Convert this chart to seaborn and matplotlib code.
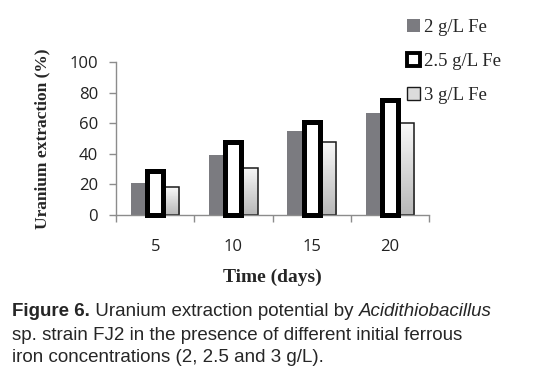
import numpy as np
import pandas as pd
import matplotlib
matplotlib.use("Agg")
import matplotlib.pyplot as plt
import seaborn as sns
from matplotlib.patches import Patch

# ── Data ──────────────────────────────────────────────────────────────
days = ["5", "10", "15", "20"]
series = ["2 g/L Fe", "2.5 g/L Fe", "3 g/L Fe"]
fe_2 = [21, 39, 55, 67]
fe_25 = [29, 48, 61, 75]
fe_3 = [18, 31, 48, 60]
y_ticks = [0, 20, 40, 60, 80, 100]

df = pd.DataFrame({
    "day": days * 3,
    "series": np.repeat(series, len(days)),
    "value": fe_2 + fe_25 + fe_3,
})

# ── Figure ────────────────────────────────────────────────────────────
sns.set_style("white")
tick_font = ["Open Sans", "DejaVu Sans"]
serif_font = ["Liberation Serif", "DejaVu Serif"]
cap_font = ["Liberation Sans", "DejaVu Sans"]
cap_size = 13.5

fig = plt.figure(figsize=(5.45, 3.79), dpi=100)
ax = fig.add_axes([0.213, 0.433, 0.574, 0.403])

sns.barplot(data=df, x="day", y="value", hue="series", order=days,
            hue_order=series, width=0.62, legend=False, ax=ax)

gray = "#7b7b80"
for level, cont in zip(series, ax.containers):
    for bar in cont:
        bar.set_clip_on(False)
        if level == "2 g/L Fe":
            bar.set_facecolor(gray)
            bar.set_edgecolor("none")
        elif level == "2.5 g/L Fe":
            bar.set_facecolor("white")
            bar.set_edgecolor("black")
            bar.set_linewidth(3.6)
            bar.set_zorder(3)
        else:
            bar.set_facecolor("none")
            bar.set_edgecolor("#1a1a1a")
            bar.set_linewidth(1.1)
            bar.set_zorder(2)
            # vertical gradient, light on top, grey at the bottom
            x0, y0 = bar.get_x(), bar.get_y()
            w, h = bar.get_width(), bar.get_height()
            grad = np.linspace(0.97, 0.72, 64).reshape(-1, 1)
            im = ax.imshow(grad, cmap="gray", vmin=0, vmax=1, aspect="auto",
                           extent=(x0, x0 + w, y0, y0 + h), origin="upper",
                           zorder=1.5)
            im.set_clip_path(bar)

ax.set_xlim(-0.5, len(days) - 0.5)
ax.set_ylim(0, 100)
ax.set_yticks(y_ticks)

# spines and ticks
for side in ["top", "right"]:
    ax.spines[side].set_visible(False)
for side in ["left", "bottom"]:
    ax.spines[side].set_color("#8c8c8c")
    ax.spines[side].set_linewidth(1.0)

ax.set_xticks(np.arange(-0.5, len(days)), minor=True)
ax.tick_params(axis="x", which="major", length=0, pad=17,
               labelsize=12, labelcolor="#222222")
ax.tick_params(axis="x", which="minor", bottom=True, length=5,
               width=1, color="#8c8c8c", direction="out")
ax.tick_params(axis="y", left=True, length=5, width=1, color="#8c8c8c",
               direction="out", pad=8, labelsize=12, labelcolor="#222222")
for lab in ax.get_xticklabels() + ax.get_yticklabels():
    lab.set_fontfamily(tick_font)

ax.set_xlabel("Time (days)", fontsize=14, fontweight="bold",
              family=serif_font, labelpad=10)
ax.set_ylabel("Uranium extraction (%)", fontsize=12.5, fontweight="bold",
              family=serif_font, labelpad=14)

# ── Legend ────────────────────────────────────────────────────────────
handles = [
    Patch(facecolor=gray, edgecolor="none", label=series[0]),
    Patch(facecolor="white", edgecolor="black", linewidth=2.8, label=series[1]),
    Patch(facecolor="#dcdcdc", edgecolor="#1a1a1a", linewidth=1.0, label=series[2]),
]
fig.legend(handles=handles, loc="upper left", bbox_to_anchor=(0.715, 0.995),
           frameon=False, handlelength=0.7, handleheight=0.7,
           handletextpad=0.25, labelspacing=0.9,
           prop={"family": serif_font, "size": 13.5})


# ── Caption ───────────────────────────────────────────────────────────
def caption_line(pieces, x, y):
    """Write text pieces with different styles one after another."""
    last = fig.text(x, y, pieces[0][0], family=cap_font, fontsize=cap_size,
                    va="baseline", ha="left", **pieces[0][1])
    for text, kw in pieces[1:]:
        last = ax.annotate(text, xy=(1, 0), xycoords=last, va="bottom",
                           ha="left", family=cap_font, fontsize=cap_size,
                           annotation_clip=False, **kw)


caption_line([("Figure 6.", {"fontweight": "bold"}),
              (" Uranium extraction potential by ", {}),
              ("Acidithiobacillus", {"style": "italic"})],
             0.022, 1 - 316.5 / 379)
caption_line([("sp. strain FJ2 in the presence of different initial ferrous", {})],
             0.022, 1 - 339.5 / 379)
caption_line([("iron concentrations (2, 2.5 and 3 g/L).", {})],
             0.022, 1 - 362 / 379)

fig.savefig("out.png", dpi=100)
